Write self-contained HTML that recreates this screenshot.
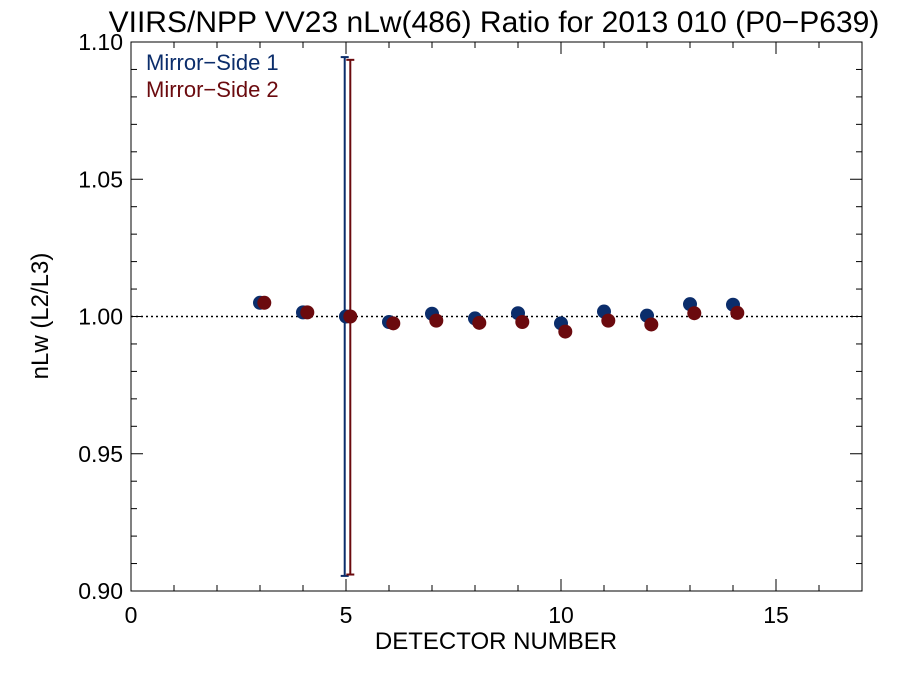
<!DOCTYPE html>
<html><head><meta charset="utf-8"><style>
body{margin:0;background:#fff;}
svg text{font-family:"Liberation Sans",sans-serif;}
</style></head><body>
<svg id="chart" width="900" height="675" xmlns="http://www.w3.org/2000/svg">
<rect width="900" height="675" fill="#fff"/>
<text x="494" y="32" font-size="30" text-anchor="middle">VIIRS/NPP VV23 nLw(486) Ratio for 2013 010 (P0−P639)</text>
<g id="axes"></g>
<g id="marks"></g>
<text x="146" y="70" font-size="22" fill="#0b2d6b">Mirror−Side 1</text>
<text x="146" y="97" font-size="22" fill="#6b0a0e">Mirror−Side 2</text>
<text x="496" y="649" font-size="24" text-anchor="middle">DETECTOR NUMBER</text>
<text transform="translate(48,316) rotate(-90)" font-size="24" text-anchor="middle">nLw (L2/L3)</text>
</svg>
<script>
const detectors=[3,4,5,6,7,8,9,10,11,12,13,14];
const ms1=[1.005,1.0015,1.000,0.998,1.001,0.9993,1.0012,0.9975,1.0018,1.0003,1.0045,1.0043];
const ms2=[1.005,1.0015,1.000,0.9975,0.9985,0.9977,0.998,0.9945,0.9985,0.9971,1.0012,1.0013];
const errDetector=[5];
const ms1Err=[[0.9055,1.0945]];
const ms2Err=[[0.906,1.0935]];
const xTicks=[0,5,10,15];
const yTicks=["0.90","0.95","1.00","1.05","1.10"];
const L=131,R=862,T=42,B=591;
const xs=v=>L+(v-0)/17*(R-L);
const ys=v=>B-(v-0.9)/0.2*(B-T);
const NS="http://www.w3.org/2000/svg";
function mk(tag,attrs,parent){const e=document.createElementNS(NS,tag);for(const k in attrs)e.setAttribute(k,attrs[k]);parent.appendChild(e);return e;}
const ax=document.getElementById('axes'),mg=document.getElementById('marks');
let f=mk('rect',{x:L,y:T,width:R-L,height:B-T,fill:'none',stroke:'#000','stroke-width':1},ax);


for(let i=0;i<=17;i++){const x=xs(i),len=(i%5===0)?12:6;
mk('line',{x1:x,x2:x,y1:B,y2:B-len,stroke:'#000'},ax);mk('line',{x1:x,x2:x,y1:T,y2:T+len,stroke:'#000'},ax);}
xTicks.forEach(v=>{const t=mk('text',{x:xs(v),y:B+32,'font-size':23,'text-anchor':'middle'},ax);t.textContent=v;

});
for(let i=0;i<=20;i++){const v=0.9+i*0.01,y=ys(v),len=(i%5===0)?12:6;
mk('line',{x1:L,x2:L+len,y1:y,y2:y,stroke:'#000'},ax);mk('line',{x1:R,x2:R-len,y1:y,y2:y,stroke:'#000'},ax);}
yTicks.forEach(s=>{const t=mk('text',{x:L-8,y:ys(+s)+8,'font-size':23,'text-anchor':'end'},ax);t.textContent=s;

});
const ref=mk('line',{x1:L,x2:R,y1:ys(1),y2:ys(1),stroke:'#000','stroke-dasharray':'2,3','stroke-width':1.5},ax);


function err(d,off,e,col,name){const x=xs(d+off);const g=mk('g',{},mg);


mk('line',{x1:x,x2:x,y1:ys(e[0]),y2:ys(e[1]),stroke:col,'stroke-width':2},g);
mk('line',{x1:x-4,x2:x+4,y1:ys(e[0]),y2:ys(e[0]),stroke:col,'stroke-width':2},g);
mk('line',{x1:x-4,x2:x+4,y1:ys(e[1]),y2:ys(e[1]),stroke:col,'stroke-width':2},g);}
errDetector.forEach((d,i)=>{err(d,-0.03,ms1Err[i],'#0b2d6b','error-bar-ms1');err(d,0.1,ms2Err[i],'#6b0a0e','error-bar-ms2');});
detectors.forEach((d,i)=>{const c=mk('circle',{cx:xs(d),cy:ys(ms1[i]),r:7,fill:'#0b2d6b'},mg);

});
detectors.forEach((d,i)=>{const c=mk('circle',{cx:xs(d+0.1),cy:ys(ms2[i]),r:7,fill:'#6b0a0e'},mg);

});
</script>
</body></html>
